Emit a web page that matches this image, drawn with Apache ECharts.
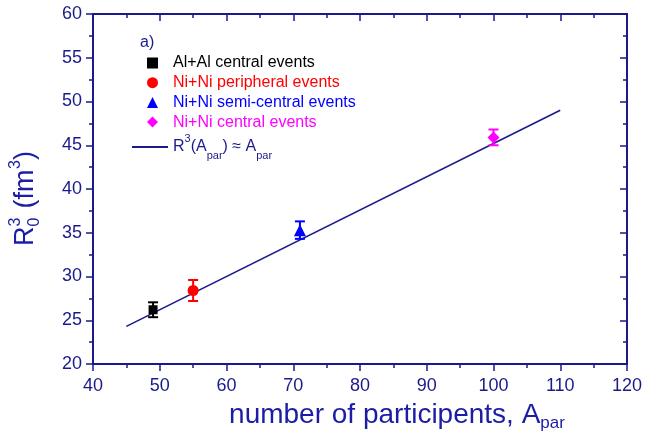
<!DOCTYPE html>
<html>
<head>
<meta charset="utf-8">
<script src="https://cdn.jsdelivr.net/npm/echarts@6/dist/echarts.min.js"></script>
<style>
  html, body { margin: 0; padding: 0; background: #ffffff; }
  #chart { width: 647px; height: 437px; }
</style>
</head>
<body>
<div id="chart"></div>
<script>
// Measured source radius cubed versus number of participating nucleons
const groupNames = ['Al+Al central events', 'Ni+Ni peripheral events', 'Ni+Ni semi-central events', 'Ni+Ni central events'];
const apar = [49, 55, 71, 100];
const r3 = [26.2, 28.4, 35.3, 45.9];
const r3Err = [0.85, 1.2, 1.0, 0.9];

// Linear dependence R^3(A_par) ~ A_par, drawn between its end points
const fitName = 'fit';
const fitX = [45, 110];
const fitY = [24.3, 49.0];

// Axis ranges and ticks
const xTicks = { min: 40, max: 120, step: 10 };
const yTicks = { min: 20, max: 60, step: 5 };

const AXIS = '#1a1a8c';
const TITLE = '#1c1ca6';
const groupColors = ['#000000', '#ff0000', '#0000ff', '#ff00ff'];
const groupSymbols = ['rect', 'circle', 'triangle', 'diamond'];
const groupSizes = [9, 11, 12, 12];
const FONT = '"Liberation Sans", Arial, sans-serif';

const chart = echarts.init(document.getElementById('chart'), null, { renderer: 'canvas' });

const baseAxis = {
  axisLine: { show: true, onZero: false, lineStyle: { color: AXIS, width: 2 } },
  splitLine: { show: false },
  minorSplitLine: { show: false }
};

const xAxes = [
  Object.assign({}, baseAxis, {
    type: 'value', position: 'bottom', min: xTicks.min, max: xTicks.max, interval: xTicks.step,
    axisTick: { show: true, inside: false, length: 7, lineStyle: { color: AXIS, width: 1.5 } },
    minorTick: { show: true, splitNumber: 2, length: 4, lineStyle: { color: AXIS, width: 1.5 } },
    axisLabel: { color: AXIS, fontSize: 18, fontFamily: FONT, margin: 13 },
    name: 'number of participents, A{sub|par}',
    nameLocation: 'middle', nameGap: 35,
    nameTextStyle: {
      color: TITLE, fontSize: 28, fontFamily: FONT, padding: [0, 0, 0, 74],
      rich: { sub: { fontSize: 17, color: TITLE, fontFamily: FONT, verticalAlign: 'bottom', padding: [16, 0, 0, 0] } }
    }
  }),
  Object.assign({}, baseAxis, {
    type: 'value', position: 'top', min: xTicks.min, max: xTicks.max, interval: xTicks.step,
    axisTick: { show: true, inside: true, length: 7, lineStyle: { color: AXIS, width: 1.5 } },
    minorTick: { show: true, splitNumber: 2, length: 4, lineStyle: { color: AXIS, width: 1.5 } },
    axisLabel: { show: false }
  })
];

const yAxes = [
  Object.assign({}, baseAxis, {
    type: 'value', position: 'left', min: yTicks.min, max: yTicks.max, interval: yTicks.step,
    axisTick: { show: true, inside: false, length: 7, lineStyle: { color: AXIS, width: 1.5 } },
    minorTick: { show: true, splitNumber: 2, length: 4, lineStyle: { color: AXIS, width: 1.5 } },
    axisLabel: { color: AXIS, fontSize: 18, fontFamily: FONT, margin: 11 }
  }),
  Object.assign({}, baseAxis, {
    type: 'value', position: 'right', min: yTicks.min, max: yTicks.max, interval: yTicks.step,
    axisTick: { show: true, inside: true, length: 7, lineStyle: { color: AXIS, width: 1.5 } },
    minorTick: { show: true, splitNumber: 2, length: 4, lineStyle: { color: AXIS, width: 1.5 } },
    axisLabel: { show: false }
  })
];

// Error bars with caps, one per measured point
const errData = apar.map((x, i) => [x, r3[i] - r3Err[i], r3[i] + r3Err[i], i]);
function renderErr(params, api) {
  const x = api.value(0);
  const lo = api.coord([x, api.value(1)]);
  const hi = api.coord([x, api.value(2)]);
  const color = groupColors[api.value(3)];
  const cap = 5;
  const style = { stroke: color, lineWidth: 2 };
  return {
    type: 'group',
    children: [
      { type: 'line', shape: { x1: lo[0], y1: lo[1], x2: hi[0], y2: hi[1] }, style },
      { type: 'line', shape: { x1: hi[0] - cap, y1: hi[1], x2: hi[0] + cap, y2: hi[1] }, style },
      { type: 'line', shape: { x1: lo[0] - cap, y1: lo[1], x2: lo[0] + cap, y2: lo[1] }, style }
    ]
  };
}

const series = [
  {
    name: fitName, type: 'line', xAxisIndex: 0, yAxisIndex: 0,
    data: fitX.map((x, i) => [x, fitY[i]]),
    symbol: 'none', lineStyle: { color: '#1a1a8c', width: 1.6 }, itemStyle: { color: '#1a1a8c' },
    z: 2, silent: true
  },
  {
    name: 'errors', type: 'custom', xAxisIndex: 0, yAxisIndex: 0,
    data: errData, renderItem: renderErr, z: 3, silent: true,
    encode: { x: 0, y: [1, 2] }
  }
];
groupNames.forEach((name, i) => {
  series.push({
    name, type: 'scatter', xAxisIndex: 0, yAxisIndex: 0,
    data: [[apar[i], r3[i]]],
    symbol: groupSymbols[i], symbolSize: groupSizes[i],
    itemStyle: { color: groupColors[i], opacity: 1 },
    z: 4, silent: true
  });
});

const legendRich = {
  n: { fontSize: 16, fontFamily: FONT, color: '#1a1a8c', lineHeight: 28 },
  sup: { fontSize: 11, fontFamily: FONT, color: '#1a1a8c', verticalAlign: 'top', lineHeight: 28, padding: [0, 0, 8, 0] },
  sub: { fontSize: 11, fontFamily: FONT, color: '#1a1a8c', verticalAlign: 'bottom', lineHeight: 28, padding: [8, 0, 0, 0] }
};

chart.setOption({
  backgroundColor: '#ffffff',
  animation: false,
  grid: { left: 93, right: 20, top: 14, bottom: 73, containLabel: false },
  xAxis: xAxes,
  yAxis: yAxes,
  legend: [
    {
      // measured groups: square-sized symbol icons
      orient: 'vertical', left: 142, top: 50,
      itemWidth: 11, itemHeight: 11, itemGap: 3.7,
      selectedMode: false,
      data: groupNames.map((name, i) => ({
        name, icon: groupSymbols[i], textStyle: { color: groupColors[i] }
      })),
      textStyle: { fontSize: 16, fontFamily: FONT, padding: [0, 0, 0, 10] }
    },
    {
      // fitted line: thin long bar as icon
      orient: 'vertical', left: 127, top: 128,
      itemWidth: 36, itemHeight: 2,
      selectedMode: false,
      data: [{ name: fitName, icon: 'rect', itemStyle: { color: '#1a1a8c' } }],
      textStyle: { fontSize: 16, fontFamily: FONT, padding: [0, 0, 0, 0], rich: legendRich },
      formatter: () => '{n|R}{sup|3}{n|(A}{sub|par}{n|) ≈ A}{sub|par}'
    }
  ],
  graphic: [
    {
      type: 'text', left: 140, top: 35,
      style: { text: 'a)', fontSize: 16, fontFamily: FONT, fill: '#1a1a8c' }
    },
    {
      // rotated y-axis title: R with stacked sub/superscript, then (fm^3)
      type: 'group', x: 26, y: 198, rotation: Math.PI / 2,
      children: [
        { type: 'text', x: -48, y: 0, style: { text: 'R', fontSize: 27, fontFamily: FONT, fill: TITLE, verticalAlign: 'middle' } },
        { type: 'text', x: -28.5, y: -10, style: { text: '3', fontSize: 16, fontFamily: FONT, fill: TITLE, verticalAlign: 'middle' } },
        { type: 'text', x: -28.5, y: 9, style: { text: '0', fontSize: 16, fontFamily: FONT, fill: TITLE, verticalAlign: 'middle' } },
        { type: 'text', x: -18, y: 0, style: { text: ' (fm', fontSize: 27, fontFamily: FONT, fill: TITLE, verticalAlign: 'middle' } },
        { type: 'text', x: 29, y: -10, style: { text: '3', fontSize: 16, fontFamily: FONT, fill: TITLE, verticalAlign: 'middle' } },
        { type: 'text', x: 38, y: 0, style: { text: ')', fontSize: 27, fontFamily: FONT, fill: TITLE, verticalAlign: 'middle' } }
      ]
    }
  ],
  series
});
</script>
</body>
</html>
